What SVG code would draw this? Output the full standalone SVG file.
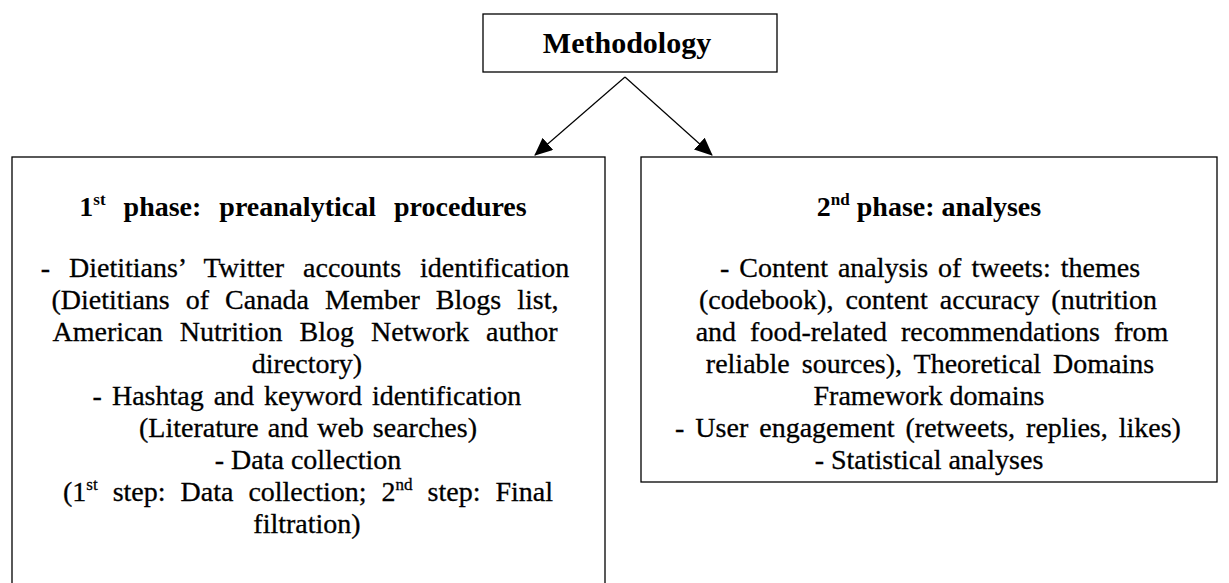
<svg xmlns="http://www.w3.org/2000/svg" width="1229" height="583" viewBox="0 0 1229 583">
<style>
.box{fill:#fff;stroke:#000;stroke-width:1.3}
text{font-family:'Liberation Serif','Times New Roman',serif;fill:#000;text-anchor:middle}
.t{font-size:28px;stroke:#000;stroke-width:0.3}
.h{font-size:28px;font-weight:bold}
.m{font-size:30px;font-weight:bold}
.sup{font-size:17px}
.conn{stroke:#000;stroke-width:1.2;fill:none}
</style>
<defs>
<marker id="arr" markerWidth="18" markerHeight="16" refX="17" refY="8" orient="auto" markerUnits="userSpaceOnUse" viewBox="0 0 18 16">
<path d="M0,0 L18,8 L0,16 Z" fill="#000"/>
</marker>
</defs>
<rect width="1229" height="583" fill="#fff"/>
<g id="connectors">
<line class="conn" x1="625" y1="77" x2="535" y2="155" marker-end="url(#arr)"/>
<line class="conn" x1="625" y1="77" x2="712" y2="155" marker-end="url(#arr)"/>
</g>
<g id="methodology">
<rect class="box" x="483" y="14" width="294" height="58"/>
<text class="m" x="627" y="53">Methodology</text>
</g>
<g id="phase1">
<rect class="box" x="12" y="157" width="593" height="440"/>
<text class="h" x="303" y="216" word-spacing="11">1<tspan class="sup" dy="-11">st</tspan><tspan dy="11"> phase: preanalytical procedures</tspan></text>
<text class="t" x="305" y="277" word-spacing="12">- Dietitians’ Twitter accounts identification</text>
<text class="t" x="305" y="309" word-spacing="9">(Dietitians of Canada Member Blogs list,</text>
<text class="t" x="305" y="341" word-spacing="10">American Nutrition Blog Network author</text>
<text class="t" x="307" y="373">directory)</text>
<text class="t" x="307" y="405" word-spacing="3">- Hashtag and keyword identification</text>
<text class="t" x="308" y="437" word-spacing="2">(Literature and web searches)</text>
<text class="t" x="308" y="469">- Data collection</text>
<text class="t" x="308" y="501" word-spacing="8">(1<tspan class="sup" dy="-11">st</tspan><tspan dy="11"> step: Data collection; 2</tspan><tspan class="sup" dy="-11">nd</tspan><tspan dy="11"> step: Final</tspan></text>
<text class="t" x="307" y="533">filtration)</text>
</g>
<g id="phase2">
<rect class="box" x="641" y="157" width="576" height="325"/>
<text class="h" x="929" y="216">2<tspan class="sup" dy="-11">nd</tspan><tspan dy="11"> phase: analyses</tspan></text>
<text class="t" x="930" y="277" word-spacing="3">- Content analysis of tweets: themes</text>
<text class="t" x="928" y="309" word-spacing="5">(codebook), content accuracy (nutrition</text>
<text class="t" x="932" y="341" word-spacing="7">and food-related recommendations from</text>
<text class="t" x="930" y="373" word-spacing="5">reliable sources), Theoretical Domains</text>
<text class="t" x="929" y="405">Framework domains</text>
<text class="t" x="928" y="437" word-spacing="4">- User engagement (retweets, replies, likes)</text>
<text class="t" x="929" y="469">- Statistical analyses</text>
</g>
</svg>
